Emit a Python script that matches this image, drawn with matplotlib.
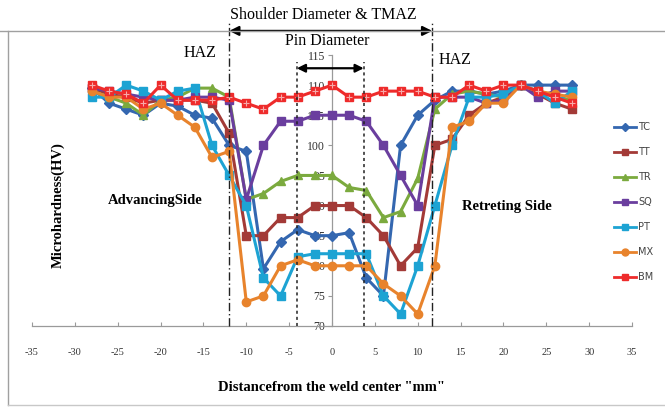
import matplotlib
matplotlib.use("Agg")
import matplotlib.pyplot as plt
from matplotlib.lines import Line2D

plt.rcParams["axes.unicode_minus"] = False

# ---------------- data ----------------
x = [-28, -26, -24, -22, -20, -18, -16, -14, -12, -10, -8, -6, -4, -2, 0,
     2, 4, 6, 8, 10, 12, 14, 16, 18, 20, 22, 24, 26, 28]

TC = [109.5, 107, 106, 105, 107, 106.5, 105, 104.5, 100, 99, 79.5, 84, 86, 85, 85,
      85.5, 78, 75, 100, 105, 107.5, 109, 109, 108.5, 109, 110, 110, 110, 110]
TT = [109.5, 108.5, 108, 107, 107.5, 107.5, 107.5, 107, 102, 85, 85, 88, 88, 90, 90,
      90, 88, 85, 80, 83, 100, 101, 105, 107, 108, 110, 108.5, 107, 106]
TR = [109, 108, 107, 105, 107.5, 108, 109.5, 109.5, 108, 91, 92, 94, 95, 95, 95,
      93, 92.5, 88, 89, 94.5, 106, 108.5, 109, 108.5, 108, 110, 109, 108, 107.5]
SQ = [109.5, 109, 108.5, 108, 107.5, 107.5, 108, 108, 107.5, 91, 100, 104, 104, 105, 105,
      105, 104, 100, 95, 90, 108, 108, 108, 107, 107.5, 110, 108, 109, 109]
PT = [108, 108, 110, 109, 107.5, 109, 109.5, 100, 95, 90, 78, 75, 81.5, 82, 82,
      82, 82, 75, 72, 80, 90, 100, 108, 108, 108.5, 110, 109, 107, 109]
MX = [109, 108, 108, 106, 107, 105, 103, 98, 99, 74, 75, 80, 81, 80, 80,
      80, 80, 77, 75, 72, 80, 103, 104, 107, 107, 110, 109, 108.5, 108]
BM = [110, 109, 108.5, 107, 110, 107.5, 107.5, 107.5, 108, 107, 106, 108, 108, 109, 110,
      108, 108, 109, 109, 109, 108, 108, 110, 109, 110, 110, 109, 108, 107]

series_names = ["TC", "TT", "TR", "SQ", "PT", "MX", "BM"]
series_data = [TC, TT, TR, SQ, PT, MX, BM]
colors = ["#3467B0", "#A33A37", "#7BAA3E", "#6A3E9E", "#1DA3D3", "#E8832C", "#EE2B2B"]
markers = ["D", "s", "^", "s", "s", "o", "s"]

xticks = [-35, -30, -25, -20, -15, -10, -5, 0, 5, 10, 15, 20, 25, 30, 35]
yticks = [70, 75, 80, 85, 90, 95, 100, 105, 110, 115]

haz_left, haz_right = -12.0, 11.7
pin_left, pin_right = -4.1, 3.7

# ---------------- figure ----------------
fig = plt.figure(figsize=(6.65, 4.12), dpi=100)
ax = fig.add_axes([32 / 665, 1 - 326 / 412, 600 / 665, 271 / 412])
ax.set_xlim(-35, 35)
ax.set_ylim(70, 115)
ax.patch.set_alpha(0)

serif = "Liberation Serif"

for name, vals, c, m in zip(series_names, series_data, colors, markers):
    ms = 6 if m != "D" else 5
    ax.plot(x, vals, color=c, lw=2.2, marker=m, ms=ms, mfc=c, mec=c, zorder=3,
            label=name, clip_on=False)
# BM crosses inside squares
ax.plot(x, BM, ls="none", marker="+", ms=4.5, mew=0.8, color="#F7A9A9", zorder=4,
        clip_on=False)

# spines / axes lines
for s in ["top", "right"]:
    ax.spines[s].set_visible(False)
ax.spines["left"].set_position(("data", 0))
ax.spines["bottom"].set_position(("data", 70))
ax.spines["left"].set_color("#9a9a9a")
ax.spines["bottom"].set_color("#9a9a9a")
ax.spines["left"].set_linewidth(0.9)
ax.spines["bottom"].set_linewidth(0.9)

ax.set_xticks(xticks)
ax.set_yticks(yticks)
ax.tick_params(axis="x", direction="in", length=3, color="#9a9a9a", pad=16,
               labelsize=7.5, labelcolor="#333333")
ax.tick_params(axis="y", direction="out", length=3, color="#9a9a9a", pad=2,
               labelsize=8.5, labelcolor="#333333")
for lab in ax.get_xticklabels() + ax.get_yticklabels():
    lab.set_fontfamily(serif)

ax.set_xlabel('Distancefrom the weld center "mm"', fontfamily=serif,
              fontweight="bold", fontsize=10.5, labelpad=17)
fig.text(58 / 665, 1 - 205 / 412, "Microhardness(HV)", rotation=90, ha="center",
         va="center", fontfamily=serif, fontweight="bold", fontsize=10.5)

# vertical boundary lines
for xv in (haz_left, haz_right):
    ax.plot([xv, xv], [70, 120.5], color="#222222", lw=1.0, ls=(0, (6, 2, 1, 2)),
            clip_on=False, zorder=5)
for xv in (pin_left, pin_right):
    ax.plot([xv, xv], [70, 113.8], color="#222222", lw=1.1, ls=(0, (2, 2)),
            clip_on=False, zorder=5)

# arrows
ax.annotate("", xy=(haz_left, 119.0), xytext=(haz_right, 119.0),
            arrowprops=dict(arrowstyle="<|-|>", color="black", lw=1.6,
                            mutation_scale=14, shrinkA=0, shrinkB=0),
            annotation_clip=False)
ax.annotate("", xy=(pin_left, 112.8), xytext=(pin_right, 112.8),
            arrowprops=dict(arrowstyle="<|-|>", color="black", lw=1.6,
                            mutation_scale=12, shrinkA=0, shrinkB=0),
            annotation_clip=False)

ax.text(-1.05, 121.6, "Shoulder Diameter & TMAZ", ha="center", va="center",
        fontfamily=serif, fontsize=11.5, clip_on=False)
ax.text(-0.6, 117.3, "Pin Diameter", ha="center", va="center",
        fontfamily=serif, fontsize=11.5, clip_on=False)
ax.text(-15.4, 115.3, "HAZ", ha="center", va="center", fontfamily=serif,
        fontsize=11.5, clip_on=False)
ax.text(14.4, 114.2, "HAZ", ha="center", va="center", fontfamily=serif,
        fontsize=11.5, clip_on=False)
ax.text(-20.6, 90.9, "AdvancingSide", ha="center", va="center", fontfamily=serif,
        fontweight="bold", fontsize=10.5)
ax.text(20.4, 89.8, "Retreting Side", ha="center", va="center", fontfamily=serif,
        fontweight="bold", fontsize=10.5)

# legend
handles = [Line2D([], [], color=c, lw=2, marker=m, ms=5 if m != "D" else 4.5,
                  mfc=c, mec=c) for c, m in zip(colors, markers)]
leg = fig.legend(handles, series_names, loc="upper left",
                 bbox_to_anchor=(614 / 665, 1 - 122 / 412), frameon=False,
                 fontsize=7, labelspacing=1.55, handlelength=2.3,
                 handletextpad=0.2, borderaxespad=0, borderpad=0)
for t in leg.get_texts():
    t.set_color("#444444")

# chart border
fig.add_artist(Line2D([0, 1], [1 - 31 / 412, 1 - 31 / 412], color="#a0a0a0",
                      lw=1.0, transform=fig.transFigure))
fig.add_artist(Line2D([8 / 665, 8 / 665], [1 - 405 / 412, 1 - 31 / 412],
                      color="#a0a0a0", lw=1.0, transform=fig.transFigure))
fig.add_artist(Line2D([8 / 665, 1], [1 - 405 / 412, 1 - 405 / 412],
                      color="#c8c8c8", lw=1.0, transform=fig.transFigure))

fig.savefig("out.png", dpi=100)
